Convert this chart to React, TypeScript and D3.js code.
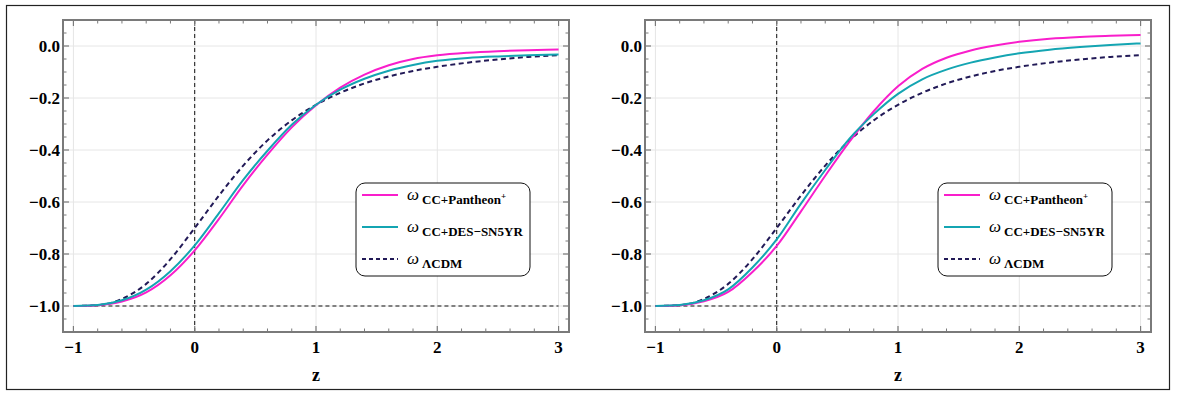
import React from 'react';
import * as d3 from 'd3';

// redshift grid the curves were read at
const zValues = [-1, -0.8, -0.6, -0.4, -0.2, 0, 0.2, 0.4, 0.6, 0.8, 1.0, 1.2, 1.4, 1.6, 1.8, 2.0, 2.25, 2.5, 2.75, 3.0];

const lcdm = [-1.0, -0.997, -0.973, -0.915, -0.82, -0.7, -0.575, -0.46, -0.363, -0.286, -0.226, -0.18, -0.144, -0.117, -0.096, -0.08, -0.064, -0.052, -0.042, -0.035];

const leftPantheon = [-1.0, -0.997, -0.983, -0.948, -0.882, -0.786, -0.665, -0.535, -0.418, -0.313, -0.228, -0.16, -0.11, -0.074, -0.05, -0.036, -0.026, -0.02, -0.016, -0.013];
const leftDes = [-1.0, -0.996, -0.978, -0.937, -0.866, -0.767, -0.643, -0.515, -0.403, -0.303, -0.226, -0.168, -0.126, -0.095, -0.073, -0.057, -0.046, -0.04, -0.036, -0.033];

const rightPantheon = [-1.0, -0.997, -0.982, -0.946, -0.869, -0.769, -0.636, -0.499, -0.368, -0.251, -0.155, -0.088, -0.045, -0.017, 0.002, 0.016, 0.028, 0.035, 0.039, 0.042];
const rightDes = [-1.0, -0.996, -0.978, -0.936, -0.852, -0.744, -0.606, -0.477, -0.356, -0.262, -0.184, -0.128, -0.091, -0.064, -0.044, -0.028, -0.014, -0.004, 0.004, 0.01];

const xTicks = [-1, 0, 1, 2, 3];
const yTicks = [-1.0, -0.8, -0.6, -0.4, -0.2, 0.0];

const PINK = '#f91ecb';
const TEAL = '#14a5b2';
const NAVY = '#221a57';
const FRAME = '#7a7a7a';
const SERIF = '"Liberation Serif", "Times New Roman", serif';

const TOP = 20;
const BOTTOM = 332;
const FRAME_W = 506;

function Panel({ left, pantheon, des }: { left: number; pantheon: number[]; des: number[] }) {
    const x = d3.scaleLinear().domain([-1.086, 3.086]).range([left, left + FRAME_W]);
    const y = d3.scaleLinear().domain([-1.1, 0.1]).range([BOTTOM, TOP]);

    const line = d3.line<number>()
        .x((d, i) => x(zValues[i]))
        .y(d => y(d))
        .curve(d3.curveMonotoneX);

    const fmtY = d3.format('.1f');
    const fmtX = d3.format('d');

    const xMinor = d3.range(-1, 3.001, 0.2).filter(v => Math.abs(v - Math.round(v)) > 1e-6);
    const yMinor = d3.range(-1.1, 0.1001, 0.05).filter(v => !yTicks.some(t => Math.abs(t - v) < 1e-6));

    const right = left + FRAME_W;
    const major = 6;
    const minor = 3.5;

    const lgX = left + 293;
    const lgY = 183;
    const rows = [
        { c: PINK, dash: undefined, sub: 'CC+Pantheon', sup: '+', dy: 12 },
        { c: TEAL, dash: undefined, sub: 'CC+DES\u2212SN5YR', sup: '', dy: 44 },
        { c: NAVY, dash: '4,3', sub: '\u039bCDM', sup: '', dy: 76 },
    ];

    return (
        <g>
            {/* grid */}
            {xTicks.map(t => (
                <line key={'gx' + t} x1={x(t)} x2={x(t)} y1={TOP} y2={BOTTOM} stroke="#e6e6e6" strokeWidth={1} />
            ))}
            {yTicks.map(t => (
                <line key={'gy' + t} x1={left} x2={right} y1={y(t)} y2={y(t)} stroke="#e6e6e6" strokeWidth={1} />
            ))}

            {/* reference lines */}
            <line x1={x(0)} x2={x(0)} y1={TOP} y2={BOTTOM} stroke="#111" strokeWidth={1} strokeDasharray="4,3" />
            <line x1={x(-1)} x2={x(3)} y1={y(-1)} y2={y(-1)} stroke="#111" strokeWidth={1.2} strokeDasharray="4,3" />

            {/* curves */}
            <path d={line(lcdm) || ''} fill="none" stroke={NAVY} strokeWidth={2} strokeDasharray="5,3.5" />
            <path d={line(pantheon) || ''} fill="none" stroke={PINK} strokeWidth={2} />
            <path d={line(des) || ''} fill="none" stroke={TEAL} strokeWidth={2} />

            {/* frame ticks */}
            {xTicks.map(t => (
                <g key={'tx' + t}>
                    <line x1={x(t)} x2={x(t)} y1={BOTTOM} y2={BOTTOM - major} stroke={FRAME} strokeWidth={1.2} />
                    <line x1={x(t)} x2={x(t)} y1={TOP} y2={TOP + major} stroke={FRAME} strokeWidth={1.2} />
                    <text x={x(t)} y={353} textAnchor="middle" fontFamily={SERIF} fontWeight="bold" fontSize={17}>{fmtX(t)}</text>
                </g>
            ))}
            {xMinor.map(t => (
                <g key={'mx' + t}>
                    <line x1={x(t)} x2={x(t)} y1={BOTTOM} y2={BOTTOM - minor} stroke={FRAME} strokeWidth={1} />
                    <line x1={x(t)} x2={x(t)} y1={TOP} y2={TOP + minor} stroke={FRAME} strokeWidth={1} />
                </g>
            ))}
            {yTicks.map(t => (
                <g key={'ty' + t}>
                    <line x1={left} x2={left + major} y1={y(t)} y2={y(t)} stroke={FRAME} strokeWidth={1.2} />
                    <line x1={right} x2={right - major} y1={y(t)} y2={y(t)} stroke={FRAME} strokeWidth={1.2} />
                    <text x={left - 3} y={y(t)} dy="0.35em" textAnchor="end" fontFamily={SERIF} fontWeight="bold" fontSize={17}>{fmtY(t)}</text>
                </g>
            ))}
            {yMinor.map(t => (
                <g key={'my' + t}>
                    <line x1={left} x2={left + minor} y1={y(t)} y2={y(t)} stroke={FRAME} strokeWidth={1} />
                    <line x1={right} x2={right - minor} y1={y(t)} y2={y(t)} stroke={FRAME} strokeWidth={1} />
                </g>
            ))}
            <rect x={left} y={TOP} width={FRAME_W} height={BOTTOM - TOP} fill="none" stroke={FRAME} strokeWidth={2} />

            <text x={(left + right) / 2} y={381} textAnchor="middle" fontFamily={SERIF} fontWeight="bold" fontSize={18}>z</text>

            {/* legend */}
            <rect x={lgX} y={lgY} width={174} height={93} rx={9} ry={9} fill="#fff" stroke="#111" strokeWidth={1} />
            {rows.map((r, i) => (
                <g key={'lg' + i}>
                    <line x1={lgX + 6} x2={lgX + 42} y1={lgY + r.dy} y2={lgY + r.dy} stroke={r.c} strokeWidth={2} strokeDasharray={r.dash} />
                    <text x={lgX + 51} y={lgY + r.dy + 4.5} fontFamily={SERIF} fontStyle="italic" fontSize={17}>ω</text>
                    <text x={lgX + 66} y={lgY + r.dy + 9} fontFamily={SERIF} fontWeight="bold" fontSize={13}>
                        {r.sub}
                        {r.sup ? <tspan dy={-5} fontSize={9}>{r.sup}</tspan> : null}
                    </text>
                </g>
            ))}
        </g>
    );
}

export default function App() {
    return (
        <div style={{ position: 'absolute', left: 0, top: 0 }}>
            <svg width={1177} height={397} style={{ display: 'block', background: '#fff' }}>
                <rect x={6.5} y={5.5} width={1163} height={384} fill="none" stroke="#222" strokeWidth={1.2} />
                <Panel left={63} pantheon={leftPantheon} des={leftDes} />
                <Panel left={645} pantheon={rightPantheon} des={rightDes} />
            </svg>
        </div>
    );
}
